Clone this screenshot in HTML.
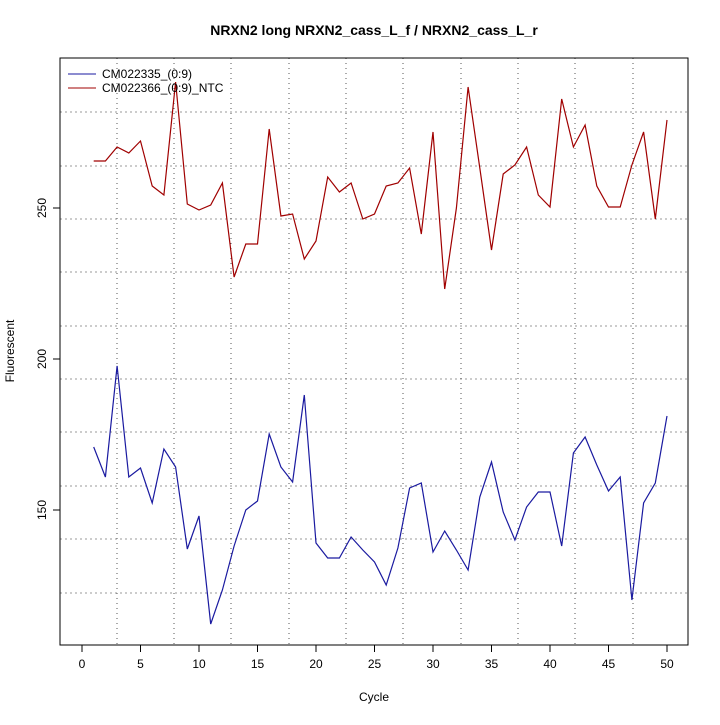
<!DOCTYPE html>
<html><head><meta charset="utf-8"><style>body{margin:0;background:#fff}</style></head><body>
<svg width="720" height="720" xmlns="http://www.w3.org/2000/svg" font-family="Liberation Sans, sans-serif">
<rect width="720" height="720" fill="#fff"/>
<g stroke="#999" stroke-dasharray="2,3" stroke-width="1">
<line x1="60" x2="688" y1="112" y2="112"/><line x1="60" x2="688" y1="166" y2="166"/><line x1="60" x2="688" y1="219" y2="219"/><line x1="60" x2="688" y1="272" y2="272"/><line x1="60" x2="688" y1="326" y2="326"/><line x1="60" x2="688" y1="379" y2="379"/><line x1="60" x2="688" y1="432" y2="432"/><line x1="60" x2="688" y1="486" y2="486"/><line x1="60" x2="688" y1="539" y2="539"/><line x1="60" x2="688" y1="593" y2="593"/>
</g>
<g stroke="#555" stroke-dasharray="1,4" stroke-width="1">
<line x1="117" x2="117" y1="58" y2="645"/><line x1="174" x2="174" y1="58" y2="645"/><line x1="231" x2="231" y1="58" y2="645"/><line x1="289" x2="289" y1="58" y2="645"/><line x1="346" x2="346" y1="58" y2="645"/><line x1="403" x2="403" y1="58" y2="645"/><line x1="461" x2="461" y1="58" y2="645"/><line x1="518" x2="518" y1="58" y2="645"/><line x1="575" x2="575" y1="58" y2="645"/><line x1="633" x2="633" y1="58" y2="645"/>
</g>
<rect x="60" y="58" width="628" height="587" fill="none" stroke="#000"/>
<polyline fill="none" stroke="#a00000" stroke-width="1.2" points="93.7,161 105.4,161 117.1,147 128.8,153 140.5,141 152.2,186 163.9,195 175.6,82 187.3,204 199,210 210.7,205 222.4,183 234.1,277 245.8,244 257.5,244 269.2,129 280.9,216 292.6,214 304.3,259 316,241 327.7,177 339.4,192 351.1,183 362.8,219 374.5,214 386.2,186 397.9,183 409.6,168 421.3,234 433,132 444.7,289 456.4,208 468.1,87 479.8,168 491.5,250 503.2,174 514.9,165 526.6,147 538.3,195 550,207 561.7,99 573.4,147 585.1,125 596.8,186 608.5,207 620.2,207 631.9,165 643.6,132 655.3,219 667,120"/>
<polyline fill="none" stroke="#1a1aa0" stroke-width="1.2" points="93.7,447 105.4,477 117.1,366 128.8,477 140.5,468 152.2,503 163.9,449 175.6,467 187.3,549 199,516 210.7,624 222.4,590 234.1,546 245.8,510 257.5,501 269.2,434 280.9,467 292.6,482 304.3,395 316,543 327.7,558 339.4,558 351.1,537 362.8,550 374.5,562 386.2,585 397.9,548 409.6,488 421.3,483 433,552 444.7,531 456.4,550 468.1,570 479.8,497 491.5,462 503.2,512 514.9,540 526.6,507 538.3,492 550,492 561.7,546 573.4,453 585.1,437 596.8,465 608.5,491 620.2,477 631.9,600 643.6,503 655.3,483 667,416"/>
<line x1="68" x2="96" y1="74" y2="74" stroke="#1a1aa0"/>
<line x1="68" x2="96" y1="88" y2="88" stroke="#a00000"/>
<text x="102" y="78" font-size="12">CM022335_(0:9)</text>
<text x="102" y="92" font-size="12">CM022366_(0:9)_NTC</text>
<g stroke="#000">
<line x1="82" x2="667" y1="645" y2="645"/>
<line x1="82" x2="82" y1="645" y2="652"/><line x1="140.5" x2="140.5" y1="645" y2="652"/><line x1="199" x2="199" y1="645" y2="652"/><line x1="257.5" x2="257.5" y1="645" y2="652"/><line x1="316" x2="316" y1="645" y2="652"/><line x1="374.5" x2="374.5" y1="645" y2="652"/><line x1="433" x2="433" y1="645" y2="652"/><line x1="491.5" x2="491.5" y1="645" y2="652"/><line x1="550" x2="550" y1="645" y2="652"/><line x1="608.5" x2="608.5" y1="645" y2="652"/><line x1="667" x2="667" y1="645" y2="652"/>
<line x1="53" x2="60" y1="208" y2="208"/><line x1="53" x2="60" y1="359" y2="359"/><line x1="53" x2="60" y1="510" y2="510"/>
</g>
<g font-size="12" text-anchor="middle">
<text x="82" y="668">0</text><text x="140.5" y="668">5</text><text x="199" y="668">10</text><text x="257.5" y="668">15</text><text x="316" y="668">20</text><text x="374.5" y="668">25</text><text x="433" y="668">30</text><text x="491.5" y="668">35</text><text x="550" y="668">40</text><text x="608.5" y="668">45</text><text x="667" y="668">50</text>
<text transform="translate(46,208) rotate(-90)">250</text>
<text transform="translate(46,359) rotate(-90)">200</text>
<text transform="translate(46,510) rotate(-90)">150</text>
<text x="374" y="701">Cycle</text>
<text transform="translate(14,351) rotate(-90)">Fluorescent</text>
<text x="374" y="35" font-size="14" font-weight="bold">NRXN2 long NRXN2_cass_L_f / NRXN2_cass_L_r</text>
</g>
</svg>
</body></html>
